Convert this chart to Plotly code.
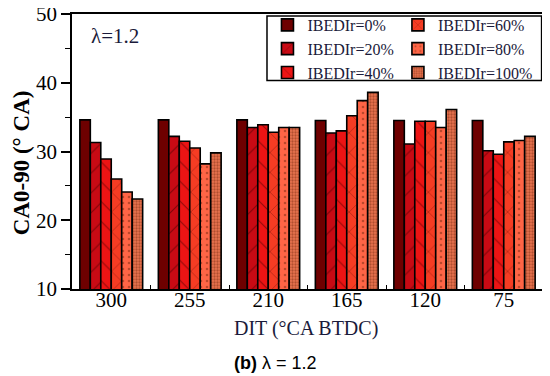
import plotly.graph_objects as go

categories = ["300", "255", "210", "165", "120", "75"]
series_names = ["IBEDIr=0%", "IBEDIr=20%", "IBEDIr=40%", "IBEDIr=60%", "IBEDIr=80%", "IBEDIr=100%"]
ibedir_0 = [34.6, 34.6, 34.6, 34.5, 34.5, 34.5]
ibedir_20 = [31.3, 32.2, 33.5, 32.7, 31.1, 30.1]
ibedir_40 = [28.9, 31.5, 33.9, 33.0, 34.4, 29.6]
ibedir_60 = [26.0, 30.5, 32.8, 35.2, 34.4, 31.4]
ibedir_80 = [24.1, 28.2, 33.5, 37.4, 33.5, 31.6]
ibedir_100 = [23.1, 29.8, 33.5, 38.6, 36.1, 32.2]
series_values = [ibedir_0, ibedir_20, ibedir_40, ibedir_60, ibedir_80, ibedir_100]

colors = ["#6E0000", "#C80A14", "#EC1414", "#F53C23", "#FF6546", "#E8734F"]
patterns = ["", "/", "\\", "x", ".", "."]
pat_size = [8, 14, 14, 14, 6, 3]
pat_solid = [0.2, 0.08, 0.08, 0.08, 0.15, 0.45]
pat_fg = ["#000", "#3a0000", "#3a0000", "#3a0000", "#7a2a10", "#7a2a10"]
legend_ids = ["legend", "legend", "legend", "legend2", "legend2", "legend2"]

FONT = "Liberation Serif, Times New Roman, serif"

fig = go.Figure()
for i, name in enumerate(series_names):
    fig.add_trace(go.Bar(
        x=categories, y=series_values[i], name=name, legend=legend_ids[i],
        marker=dict(color=colors[i], line=dict(color="black", width=1.6),
                    pattern=dict(shape=patterns[i], size=pat_size[i], solidity=pat_solid[i],
                                 fgcolor=pat_fg[i], fillmode="overlay")),
    ))

legend_common = dict(
    orientation="v", xanchor="left", yanchor="top", y=1.022,
    borderwidth=0, bgcolor="rgba(0,0,0,0)",
    font=dict(family=FONT, size=16, color="#1a1a3a"),
    tracegroupgap=0, itemwidth=30,
)

fig.update_layout(
    width=542, height=368,
    margin=dict(l=64, r=7, t=6, b=87, autoexpand=False),
    paper_bgcolor="white", plot_bgcolor="white",
    barmode="group", bargap=0.2, bargroupgap=0,
    font=dict(family=FONT, color="black", size=20),
    showlegend=True,
    legend=dict(x=0.415, **legend_common),
    legend2=dict(x=0.692, **legend_common),
    xaxis=dict(
        automargin=False,
        showline=True, linecolor="black", linewidth=1.5, mirror=True,
        ticks="inside", tickson="boundaries", ticklen=4, tickcolor="black",
        tickfont=dict(size=21), showgrid=False, ticklabelstandoff=-9,
    ),
    yaxis=dict(
        automargin=False, ticklabeloverflow="allow",
        range=[10, 50], dtick=10, showline=True, linecolor="black", linewidth=1.5, mirror=True,
        ticks="outside", ticklen=9, tickcolor="black", tickwidth=1.5,
        minor=dict(ticks="outside", ticklen=5, dtick=5, tickcolor="black", tickwidth=1.2),
        tickfont=dict(size=21), showgrid=False, zeroline=False,
    ),
)

# legend frame (both legend columns share one box)
fig.add_shape(type="rect", xref="paper", yref="paper", x0=0.414, x1=0.997, y0=0.758, y1=0.993,
              line=dict(color="black", width=1.5), fillcolor="rgba(0,0,0,0)", layer="above")

fig.add_annotation(text="<b>CA0-90 (° CA)</b>", xref="paper", yref="paper", x=-0.108, y=0.458,
                   xanchor="center", yanchor="middle", textangle=-90, showarrow=False,
                   font=dict(family=FONT, size=23, color="black"))
fig.add_annotation(text="DIT (°CA BTDC)", xref="paper", yref="paper", x=0.497, y=-0.145,
                   xanchor="center", yanchor="middle", showarrow=False,
                   font=dict(family=FONT, size=20, color="#1a1a3a"))
fig.add_annotation(text="λ=1.2", xref="paper", yref="paper", x=0.036, y=0.92,
                   xanchor="left", yanchor="middle", showarrow=False,
                   font=dict(family=FONT, size=21, color="#1a1a3a"))
fig.add_annotation(text="<b>(b)</b> λ = 1.2", xref="paper", yref="paper", x=0.433, y=-0.269,
                   xanchor="center", yanchor="middle", showarrow=False,
                   font=dict(family="Liberation Sans, Arial, sans-serif", size=18, color="black"))

fig.write_html("out.html")
